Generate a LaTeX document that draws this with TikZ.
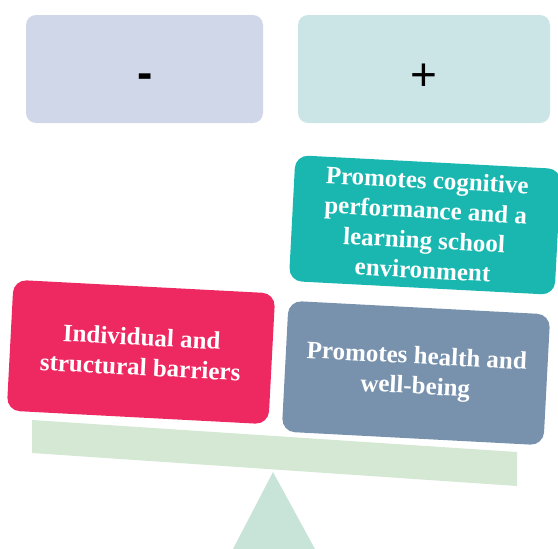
\documentclass[tikz,border=0pt]{standalone}
\usepackage{fontspec}
\setmainfont{Liberation Serif}
\newfontfamily\signfont{Liberation Sans}
\usetikzlibrary{positioning}
\definecolor{minusbg}{HTML}{D0D7E8}
\definecolor{plusbg}{HTML}{CBE5E7}
\definecolor{cogteal}{HTML}{1AB7B0}
\definecolor{barred}{HTML}{EE2860}
\definecolor{healthslate}{HTML}{7892AE}
\definecolor{beamgreen}{HTML}{D5E8D4}
\definecolor{pivotgreen}{HTML}{C8E4D8}
\newcommand{\tilt}{-3}
\newcommand{\boxw}{262}
\newcommand{\boxh}{131}
\begin{document}
\begin{tikzpicture}[
      x=1pt, y=-1pt,
      side/.style={rounded corners=10pt, inner sep=0pt},
      sign/.style={inner sep=0pt, font=\signfont\fontsize{46}{46}\selectfont},
      weight/.style={rounded corners=13pt, text=white, align=center, inner sep=0pt,
                     rotate=\tilt, font=\bfseries\fontsize{25}{30}\selectfont}
    ]
    \useasboundingbox (0,0) rectangle (558,549);
    % the two sides of the scale
    \node[side, fill=minusbg, minimum width=237pt, minimum height=108pt] (minus) at (144.5,69) {};
    \node[side, fill=plusbg, minimum width=252pt, minimum height=108pt] (plus) at (424,69) {};
    \node[sign] (minussign) at (145,81) {\bfseries -};
    \node[sign] (plussign) at (424,77) {+};
    % the pivot and the beam
    \fill[pivotgreen] (273,472) -- (233,549) -- (315,549) -- cycle;
    \fill[beamgreen] (32,420) -- (517,452) -- (517,486) -- (32,453) -- cycle;
    % the weights on the beam
    \node[weight, fill=barred, minimum width=\boxw pt, minimum height=\boxh pt] (barriers) at (141,352)
        {Individual and\\structural barriers};
    \node[weight, fill=healthslate, minimum width=\boxw pt, minimum height=\boxh pt] (health) at (416,373)
        {Promotes health and\\well-being};
    \node[weight, fill=cogteal, minimum width=266pt, minimum height=126pt] (cognitive) at (425,225)
        {Promotes cognitive\\performance and a\\learning school\\environment};
\end{tikzpicture}
\end{document}
